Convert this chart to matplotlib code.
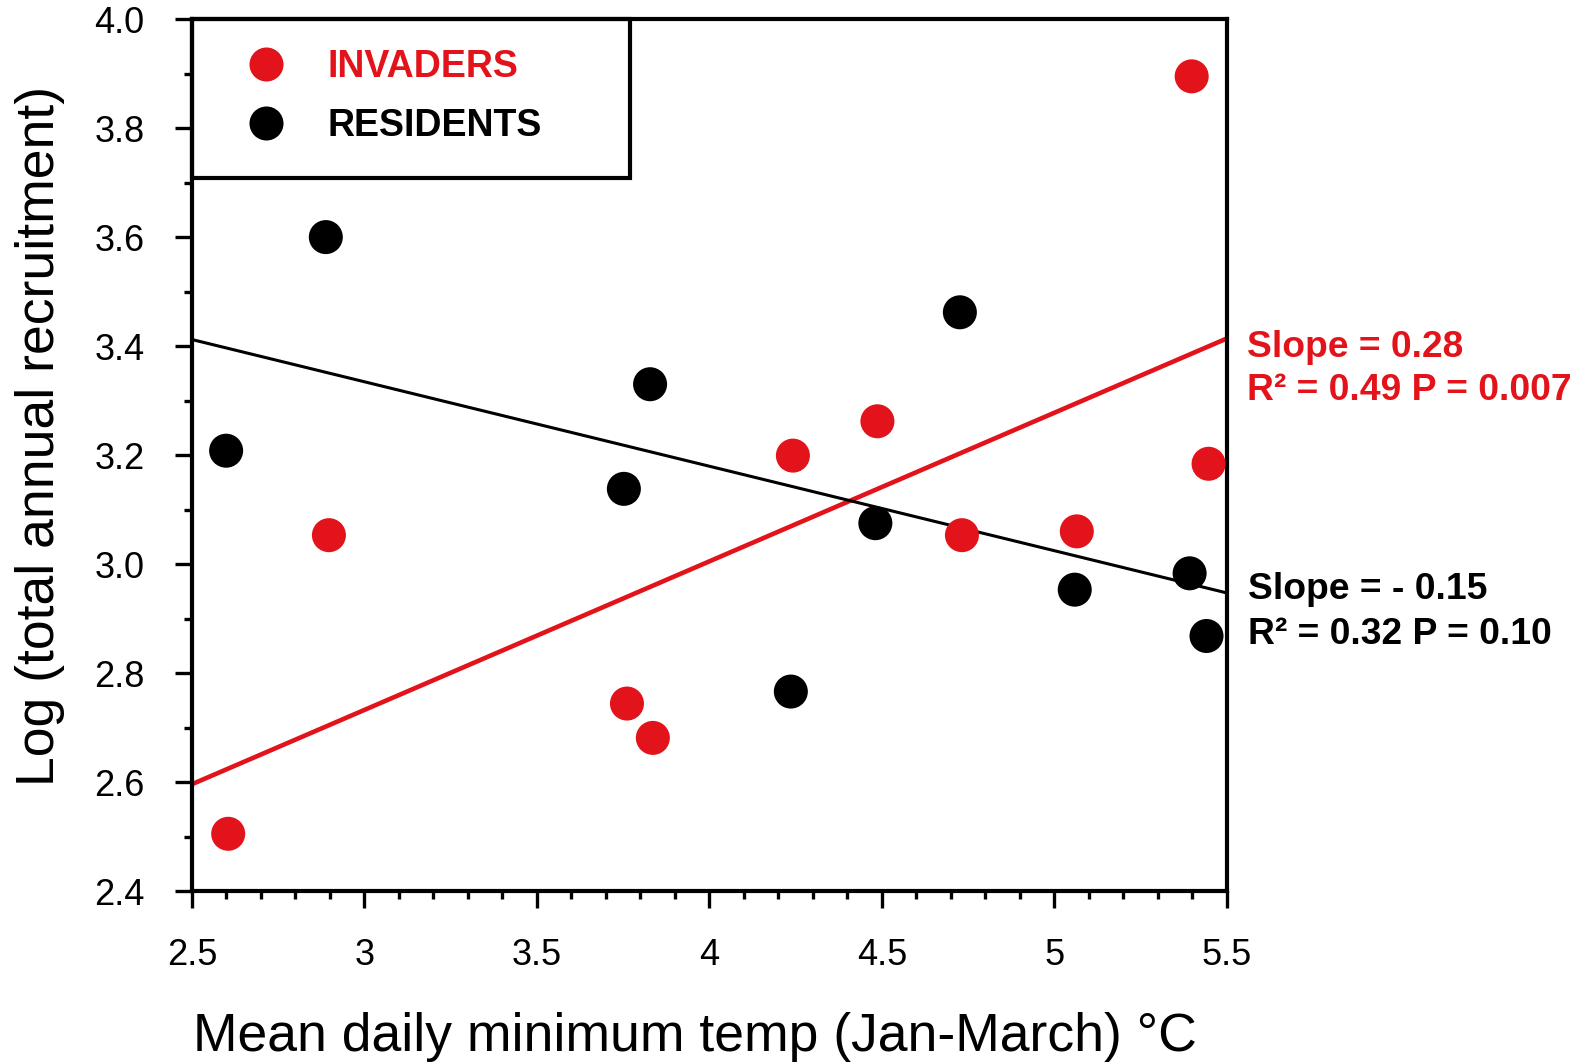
import matplotlib
matplotlib.use('Agg')
import matplotlib.pyplot as plt
from matplotlib.lines import Line2D
from matplotlib.patches import Rectangle
from matplotlib.ticker import MultipleLocator, FormatStrFormatter
import numpy as np

plt.rcParams['font.family'] = ['Liberation Sans', 'DejaVu Sans']

RED = '#E2131A'

# invaders (red) and residents (black): mean min temp vs log recruitment
inv_x = [2.605, 2.897, 3.761, 3.836, 4.242, 4.487, 4.732, 5.065, 5.398, 5.447]
inv_y = [2.505, 3.053, 2.744, 2.681, 3.199, 3.262, 3.053, 3.060, 3.895, 3.184]
res_x = [2.599, 2.888, 3.752, 3.828, 4.236, 4.481, 4.726, 5.059, 5.392, 5.441]
res_y = [3.208, 3.600, 3.138, 3.330, 2.766, 3.075, 3.462, 2.953, 2.983, 2.868]

# regression lines, read at the axis ends
fit_x = [2.5, 5.5]
inv_fit_y = [2.596, 3.414]
res_fit_y = [3.412, 2.947]

inv_stats = ['Slope = 0.28', 'R\u00b2 = 0.49 P = 0.007']
res_stats = ['Slope = - 0.15', 'R\u00b2 = 0.32 P = 0.10']

fig = plt.figure(figsize=(15.8, 10.62), dpi=100)
ax = fig.add_axes([0.1215, 0.161, 0.655, 0.821])

ax.plot(fit_x, inv_fit_y, color=RED, lw=3.3, zorder=2)
ax.plot(fit_x, res_fit_y, color='black', lw=2.2, zorder=2)
ax.scatter(inv_x, inv_y, s=600, color=RED, edgecolors='none', zorder=3)
ax.scatter(res_x, res_y, s=600, color='black', edgecolors='none', zorder=3)

ax.set_xlim(2.5, 5.5)
ax.set_ylim(2.4, 4.0)
ax.xaxis.set_major_locator(MultipleLocator(0.5))
ax.xaxis.set_minor_locator(MultipleLocator(0.1))
ax.yaxis.set_major_locator(MultipleLocator(0.2))
ax.yaxis.set_minor_locator(MultipleLocator(0.1))
ax.xaxis.set_major_formatter(FormatStrFormatter('%g'))
ax.yaxis.set_major_formatter(FormatStrFormatter('%.1f'))
ax.tick_params(which='major', direction='out', length=12, width=2.4, labelsize=26, pad=22)
ax.tick_params(which='minor', direction='out', length=6, width=2.4)
ax.tick_params(top=False, right=False, which='both')
for s in ax.spines.values():
    s.set_linewidth(3)

ax.set_xlabel('Mean daily minimum temp (Jan-March) \u00b0C', fontsize=38.5)
ax.set_ylabel('Log (total annual recruitment)', fontsize=38.5)
ax.xaxis.set_label_coords(0.486, -0.139)
ax.yaxis.set_label_coords(-0.123, 0.522)

# stats text to the right of the plot
ax.text(5.558, 3.398, inv_stats[0], color=RED, fontsize=26.8, fontweight='bold', va='center', clip_on=False)
ax.text(5.558, 3.318, inv_stats[1], color=RED, fontsize=26.8, fontweight='bold', va='center', clip_on=False)
ax.text(5.562, 2.954, res_stats[0], color='black', fontsize=26.8, fontweight='bold', va='center', clip_on=False)
ax.text(5.562, 2.871, res_stats[1], color='black', fontsize=26.8, fontweight='bold', va='center', clip_on=False)

# legend box
ax.add_patch(Rectangle((0, 0.818), 0.423, 0.182, transform=ax.transAxes, fill=False,
                       lw=3, edgecolor='black', zorder=4, clip_on=False))
handles = [Line2D([], [], ls='none', marker='o', ms=24.5, color=RED, mec='none'),
           Line2D([], [], ls='none', marker='o', ms=24.5, color='black', mec='none')]
leg = ax.legend(handles, ['INVADERS', 'RESIDENTS'], loc='upper left', bbox_to_anchor=(0.053, 0.966),
                frameon=False, borderpad=0, borderaxespad=0, handlelength=1.0, handletextpad=1.15,
                labelspacing=0.62, prop={'size': 27, 'weight': 'bold'})
for t, c in zip(leg.get_texts(), [RED, 'black']):
    t.set_color(c)

fig.savefig('out.png', dpi=100)
